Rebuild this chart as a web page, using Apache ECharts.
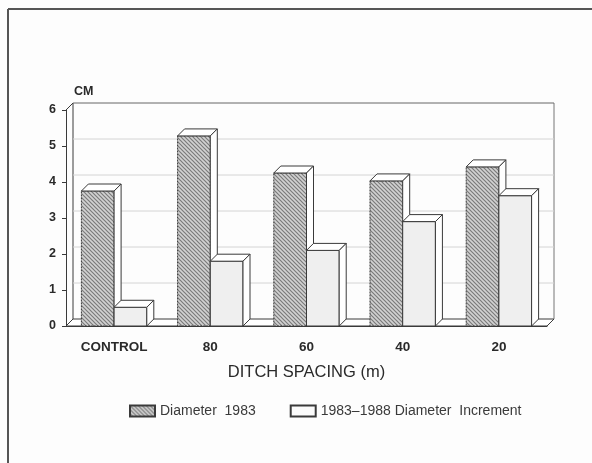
<!DOCTYPE html>
<html>
<head>
<meta charset="utf-8">
<script src="https://cdn.jsdelivr.net/npm/echarts@6/dist/echarts.min.js"></script>
<style>
  html, body { margin: 0; padding: 0; background: #fdfdfd; }
  #chartBox { width: 592px; height: 463px; }
</style>
</head>
<body>
<div id="chartBox"></div>
<script>
// data
var categories = ['CONTROL', '80', '60', '40', '20'];
var diameter1983 = [3.75, 5.28, 4.25, 4.03, 4.42];
var increment8388 = [0.52, 1.8, 2.1, 2.9, 3.62];
var yTicks = [0, 1, 2, 3, 4, 5, 6];
var seriesNames = ['Diameter  1983', '1983\u20131988 Diameter  Increment'];

var D = 7; // depth of the 3d look, px
var LINE = '#3a3a3a';

// hatched fill for the 1983 bars
function makeHatch() {
  var c = document.createElement('canvas');
  c.width = 4; c.height = 4;
  var ctx = c.getContext('2d');
  ctx.fillStyle = '#d2d2d2';
  ctx.fillRect(0, 0, 4, 4);
  ctx.strokeStyle = '#7a7a7a';
  ctx.lineWidth = 1.2;
  ctx.beginPath();
  ctx.moveTo(0, 0); ctx.lineTo(4, 4);
  ctx.moveTo(-2, 2); ctx.lineTo(2, 6);
  ctx.moveTo(2, -2); ctx.lineTo(6, 2);
  ctx.stroke();
  return { image: c, repeat: 'repeat' };
}
var hatch = makeHatch();
var lightFill = '#efefef';

function barItem(left, fill, dashed) {
  return function (params, api) {
    var idx = api.value(0), v = api.value(1);
    var top = api.coord([idx, v]);
    var base = api.coord([idx, 0]);
    var w = api.size([1, 0])[0] * 0.34;
    var x0 = left ? top[0] - w : top[0];
    var x1 = x0 + w;
    var yt = top[1], yb = base[1];
    return {
      type: 'group',
      children: [
        { type: 'rect', shape: { x: x0, y: yt, width: w, height: yb - yt },
          style: { fill: fill, stroke: LINE, lineWidth: 1, lineDash: dashed ? [2, 1] : null } },
        { type: 'polygon', shape: { points: [[x0, yt], [x0 + D, yt - D], [x1 + D, yt - D], [x1, yt]] },
          style: { fill: '#fff', stroke: LINE, lineWidth: 1 } },
        { type: 'polygon', shape: { points: [[x1, yt], [x1 + D, yt - D], [x1 + D, yb - D], [x1, yb]] },
          style: { fill: '#fff', stroke: LINE, lineWidth: 1 } }
      ]
    };
  };
}

// back wall, gridlines and floor
function wallItem(params, api) {
  var cs = params.coordSys;
  var v = api.value(1);
  var y = api.coord([0, v])[1];
  var yTop = api.coord([0, yTicks[yTicks.length - 1]])[1];
  var xl = cs.x, xr = cs.x + cs.width;
  var kids = [];
  if (v === 0) {
    kids.push({ type: 'polygon', shape: { points: [[xl, y], [xl + D, y - D], [xr + D, y - D], [xr, y]] },
      style: { fill: '#fff', stroke: LINE, lineWidth: 1 } });
    kids.push({ type: 'line', shape: { x1: xl + D, y1: y - D, x2: xl + D, y2: yTop - D },
      style: { stroke: LINE, lineWidth: 1 } });
    kids.push({ type: 'line', shape: { x1: xr + D, y1: y - D, x2: xr + D, y2: yTop - D },
      style: { stroke: '#777', lineWidth: 1 } });
  } else if (v === yTicks[yTicks.length - 1]) {
    kids.push({ type: 'line', shape: { x1: xl + D, y1: y - D, x2: xr + D, y2: y - D },
      style: { stroke: '#666', lineWidth: 1 } });
    kids.push({ type: 'line', shape: { x1: xl, y1: y, x2: xl + D, y2: y - D },
      style: { stroke: LINE, lineWidth: 1 } });
  } else {
    kids.push({ type: 'line', shape: { x1: xl + D, y1: y - D, x2: xr + D, y2: y - D },
      style: { stroke: '#d4d4d4', lineWidth: 1 } });
  }
  return { type: 'group', children: kids };
}

var chart = echarts.init(document.getElementById('chartBox'));
var option = {
  backgroundColor: '#fdfdfd',
  animation: false,
  textStyle: { fontFamily: 'Liberation Sans' },
  graphic: [
    { type: 'line', shape: { x1: 8, y1: 9, x2: 592, y2: 9 }, style: { stroke: '#555', lineWidth: 2 } },
    { type: 'line', shape: { x1: 8, y1: 9, x2: 8, y2: 463 }, style: { stroke: '#555', lineWidth: 2 } }
  ],
  grid: { left: 66, right: 45, top: 110, bottom: 137 },
  legend: {
    data: seriesNames,
    left: 124,
    top: 399,
    itemWidth: 25,
    itemHeight: 11,
    itemGap: 34,
    icon: 'rect',
    textStyle: { color: '#3a3a3a', fontSize: 14, fontFamily: 'Liberation Sans' }
  },
  xAxis: {
    type: 'category',
    data: categories,
    name: 'DITCH SPACING (m)',
    nameLocation: 'middle',
    nameGap: 38,
    nameTextStyle: { color: '#2a2a2a', fontSize: 16.5 },
    axisLine: { lineStyle: { color: LINE } },
    axisTick: { alignWithLabel: true, length: 4, lineStyle: { color: LINE } },
    axisLabel: { color: '#2a2a2a', fontSize: 13.5, fontWeight: 'bold', margin: 14 }
  },
  yAxis: {
    type: 'value',
    min: 0,
    max: 6,
    interval: 1,
    name: 'CM',
    nameLocation: 'end',
    nameGap: 12,
    nameTextStyle: { color: '#2a2a2a', fontSize: 12.5, fontWeight: 'bold', align: 'left', padding: [0, 0, 0, 8] },
    axisLine: { show: true, lineStyle: { color: LINE } },
    axisTick: { show: true, length: 4, lineStyle: { color: LINE } },
    axisLabel: { color: '#2a2a2a', fontSize: 12.5, fontWeight: 'bold', margin: 10 },
    splitLine: { show: false }
  },
  series: [
    {
      name: 'wall',
      type: 'custom',
      renderItem: wallItem,
      data: yTicks.map(function (t) { return [0, t]; }),
      silent: true,
      z: 1
    },
    {
      name: seriesNames[0],
      type: 'custom',
      renderItem: barItem(true, hatch, true),
      itemStyle: { color: hatch, borderColor: LINE, borderWidth: 1 },
      data: diameter1983.map(function (v, i) { return [i, v]; }),
      z: 2
    },
    {
      name: seriesNames[1],
      type: 'custom',
      renderItem: barItem(false, lightFill, false),
      itemStyle: { color: '#fbfbfb', borderColor: LINE, borderWidth: 1 },
      data: increment8388.map(function (v, i) { return [i, v]; }),
      z: 3
    }
  ]
};
chart.setOption(option);
</script>
</body>
</html>
